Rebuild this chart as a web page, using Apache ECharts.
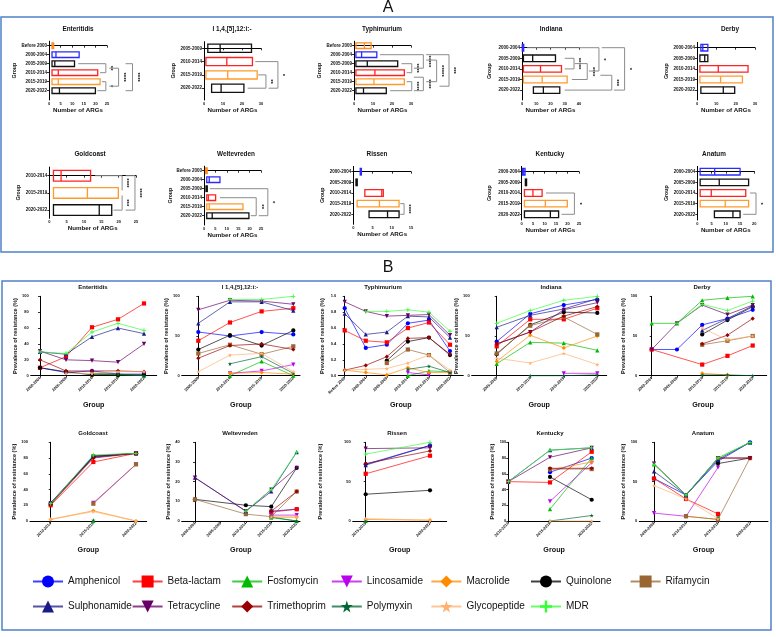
<!DOCTYPE html>
<html><head><meta charset="utf-8">
<script src="https://cdn.jsdelivr.net/npm/echarts@6/dist/echarts.min.js"></script>
<style>html,body{margin:0;padding:0;background:#fff}#c{width:776px;height:637px}</style>
</head><body><div id="c"></div>
<script>
// ---------------- DATA: Panel A (number of ARGs per group: min, median, max) ----------------
const A1_title='Enteritidis';
const A1_groups=['Before 2000','2000-2004','2005-2009','2010-2014','2015-2019','2020-2022'];
const A1_low=[1.3,1.3,1.3,1.3,1.3,1.3];
const A1_med=[1.6,3,2.5,4,4,4.5];
const A1_high=[2,13,11,21,22,20];
const A1_brackets=[[2,3,12.6,22,24.5,'**'],[4,5,22.8,20.8,24.5,'*'],[2.5,4.5,26,26,30,'****'],[2,5,33,33,36,'****']];

const A2_title='I 1,4,[5],12:i:-';
const A2_groups=['2005-2009','2010-2014','2015-2019','2020-2022'];
const A2_low=[2,1,1,4];
const A2_med=[8.5,12,12.5,9];
const A2_high=[25,25.5,28,21];
const A2_brackets=[[2,3,28.5,23,32.6,'**'],[1,3,27,34,38.9,'*']];

const A3_title='Typhimurium';
const A3_groups=['Before 2000','2000-2004','2005-2009','2010-2014','2015-2019','2020-2022'];
const A3_low=[1,1,1,1,1,1];
const A3_med=[5.5,4,7,11,10.5,5];
const A3_high=[9,12,23,26.5,26.5,17];
const A3_brackets=[[2,3,25,27.7,30.4,'****'],[4,5,27.7,19,30.4,'****'],[1,2.5,13.7,31.5,36.5,'*****'],[3.5,5,31.5,31.5,36.5,'****'],[1.6,4,38,38,43.5,'*****'],[1,4.5,38,45,50,'***']];

const A4_title='Indiana';
const A4_groups=['2000-2004','2005-2009','2010-2014','2015-2019','2020-2022'];
const A4_low=[0.2,1,1,1,8];
const A4_med=[0.7,7.5,13,14.2,15];
const A4_high=[1.2,23.5,27.7,31.7,26.5];
const A4_brackets=[[1,2,30,30,36.5,'*****'],[1.5,3,37,35,45.8,'****'],[0,2.2,3.5,47,54,'*'],[2.6,4,55,30,63,'***'],[0,4,56,64.5,72,'*']];

const A5_title='Derby';
const A5_groups=['2000-2004','2005-2009','2010-2014','2015-2019','2020-2022'];
const A5_low=[2,1.5,1.5,1.5,2];
const A5_med=[3,4,11,12.2,13.6];
const A5_high=[5.6,5.6,26.4,23.5,19.5];
const A5_brackets=[];

const A6_title='Goldcoast';
const A6_groups=['2010-2014','2015-2019','2020-2022'];
const A6_low=[1.2,1.2,1.2];
const A6_med=[3.4,11,14.4];
const A6_high=[11.9,19.9,18];
const A6_brackets=[[0,0.85,13.2,21,21,'****'],[1.15,2,21,18.5,21,'***'],[0,2,22,22,24.7,'****']];

const A7_title='Weltevreden';
const A7_groups=['Before 2000','2000-2004','2005-2009','2010-2014','2015-2019','2020-2022'];
const A7_low=[0.7,1.2,0.9,1.2,1.2,1.2];
const A7_med=[1,2.3,1.1,1.9,2.3,3.6];
const A7_high=[1.4,7,1.4,5.1,17.1,19.7];
const A7_brackets=[[3,5,7,20.5,22.9,'**'],[2,5,2.6,24,28,'*']];

const A8_title='Rissen';
const A8_groups=['2000-2004','2005-2009','2010-2014','2015-2019','2020-2022'];
const A8_low=[1.8,0.7,3,1,4.1];
const A8_med=[2,0.85,7.4,6.8,8.9];
const A8_high=[2.1,1.0,7.8,11.9,11.9];
const A8_brackets=[[3,4,12.2,12.2,13.2,'****']];

const A9_title='Kentucky';
const A9_groups=['2000-2004','2005-2009','2010-2014','2015-2019','2020-2022'];
const A9_low=[0.4,1.6,1.2,1.2,1.2];
const A9_med=[0.9,1.8,4.9,10.3,12.5];
const A9_high=[1.45,2.0,8.9,19.9,16.1];
const A9_brackets=[[2,4,10.6,17.4,23,'*']];

const A10_title='Anatum';
const A10_groups=['2000-2004','2005-2009','2010-2014','2015-2019','2020-2022'];
const A10_low=[1,1,1,1,6];
const A10_med=[6.1,7.7,4.9,9.8,12.5];
const A10_high=[15,18,17,18,15];
const A10_brackets=[[2,4,18.5,16.1,20.6,'*']];

// ---------------- DATA: Panel B (prevalence of resistance) ----------------
const ABX=['Amphenicol','Beta-lactam','Fosfomycin','Lincosamide','Macrolide','Quinolone','Rifamycin','Sulphonamide','Tetracycline','Trimethoprim','Polymyxin','Glycopeptide','MDR'];

const B1_title='Enteritidis';
const B1_groups=['2000-2004','2005-2009','2010-2014','2015-2019','2020-2022'];
const B1_Amphenicol=[10,4,6,2,2];
const B1_BetaLactam=[10,24,61,71,91];
const B1_Fosfomycin=[null,null,2,1,0];
const B1_Lincosamide=[null,null,null,null,3];
const B1_Macrolide=[null,null,0,null,null];
const B1_Quinolone=[10,5,1,1,1];
const B1_Rifamycin=[null,null,null,null,null];
const B1_Sulphonamide=[30,27,49,60,53];
const B1_Tetracycline=[31,20,19,17,40];
const B1_Trimethoprim=[20,6,6,6,5];
const B1_Polymyxin=[null,null,3,2,0];
const B1_Glycopeptide=[null,3,3,5,5];
const B1_MDR=[30,28,55,66,57];

const B2_title='I 1,4,[5],12:i:-';
const B2_groups=['2005-2009','2010-2014','2015-2019','2020-2022'];
const B2_Amphenicol=[55,50,55,52];
const B2_BetaLactam=[44,67,81,85];
const B2_Fosfomycin=[null,0,18,0];
const B2_Lincosamide=[null,3,6,14];
const B2_Macrolide=[null,3,4,2];
const B2_Quinolone=[33,51,38,57];
const B2_Rifamycin=[28,39,27,37];
const B2_Sulphonamide=[66,93,93,82];
const B2_Tetracycline=[83,95,94,90];
const B2_Trimethoprim=[22,38,40,33];
const B2_Polymyxin=[null,15,24,3];
const B2_Glycopeptide=[5,26,28,5];
const B2_MDR=[null,96,96,100];

const B3_title='Typhimurium';
const B3_groups=['Before 2000','2000-2004','2005-2009','2010-2014','2015-2019','2020-2022'];
const B3_Amphenicol=[0.85,0.35,0.39,0.66,0.70,0.31];
const B3_BetaLactam=[0.57,0.44,0.42,0.60,0.67,0.39];
const B3_Fosfomycin=[null,null,null,0.00,0.06,0.05];
const B3_Lincosamide=[null,null,null,0.04,0.01,null];
const B3_Macrolide=[0.07,0.04,0.01,0.10,0.04,0.04];
const B3_Quinolone=[null,null,0.19,0.43,0.48,0.26];
const B3_Rifamycin=[null,null,0.16,0.33,0.26,0.04];
const B3_Sulphonamide=[0.78,0.52,0.55,0.75,0.74,0.48];
const B3_Tetracycline=[0.93,0.81,0.75,0.76,0.77,0.51];
const B3_Trimethoprim=[0.07,0.13,0.24,0.47,0.48,0.27];
const B3_Polymyxin=[null,null,null,0.08,0.12,0.04];
const B3_Glycopeptide=[0.07,0.08,0.09,0.16,0.26,0.07];
const B3_MDR=[null,0.81,0.81,0.83,0.80,0.56];

const B4_title='Indiana';
const B4_groups=['2005-2009','2010-2014','2015-2019','2020-2022'];
const B4_Amphenicol=[43,78,89,96];
const B4_BetaLactam=[37,71,71,85];
const B4_Fosfomycin=[15,42,41,32];
const B4_Lincosamide=[null,null,3,3];
const B4_Macrolide=[18,51,35,50];
const B4_Quinolone=[27,64,80,79];
const B4_Rifamycin=[28,63,74,52];
const B4_Sulphonamide=[61,76,84,97];
const B4_Tetracycline=[40,55,83,92];
const B4_Trimethoprim=[40,55,75,87];
const B4_Polymyxin=[null,0,0,1];
const B4_Glycopeptide=[22,16,28,14];
const B4_MDR=[66,82,95,100];

const B5_title='Derby';
const B5_groups=['2000-2004','2005-2009','2010-2014','2015-2019','2020-2022'];
const B5_Amphenicol=[33,33,64,72,83];
const B5_BetaLactam=[33,null,14,25,38];
const B5_Fosfomycin=[66,66,95,98,100];
const B5_Lincosamide=[null,null,null,null,null];
const B5_Macrolide=[null,null,3,1,null];
const B5_Quinolone=[null,null,52,70,87];
const B5_Rifamycin=[null,null,39,44,50];
const B5_Sulphonamide=[null,null,57,72,88];
const B5_Tetracycline=[33,66,89,77,89];
const B5_Trimethoprim=[null,null,40,51,72];
const B5_Polymyxin=[null,null,1,1,0];
const B5_Glycopeptide=[null,null,60,45,50];
const B5_MDR=[null,66,90,82,94];

const B6_title='Goldcoast';
const B6_groups=['2010-2014','2015-2019','2020-2022'];
const B6_Amphenicol=[23,81,86];
const B6_BetaLactam=[20,75,86];
const B6_Fosfomycin=[null,0,null];
const B6_Lincosamide=[null,23,72];
const B6_Macrolide=[2,13,0];
const B6_Quinolone=[22,82,86];
const B6_Rifamycin=[null,22,72];
const B6_Sulphonamide=[23,83,86];
const B6_Tetracycline=[22,82,86];
const B6_Trimethoprim=[21,80,86];
const B6_Polymyxin=[null,1,null];
const B6_Glycopeptide=[2,12,0];
const B6_MDR=[22,84,86];

const B7_title='Weltevreden';
const B7_groups=['2000-2004','2005-2009','2010-2014','2015-2019','2020-2022'];
const B7_Amphenicol=[null,null,null,5,6];
const B7_BetaLactam=[null,null,null,4.5,6];
const B7_Fosfomycin=[null,null,null,1.7,0];
const B7_Lincosamide=[null,null,null,3,3];
const B7_Macrolide=[null,null,null,2,2];
const B7_Quinolone=[11,null,8,7.3,27];
const B7_Rifamycin=[11,null,3.5,2.2,15];
const B7_Sulphonamide=[22,null,5,15,35];
const B7_Tetracycline=[22,null,5,16,27];
const B7_Trimethoprim=[null,null,null,5,15];
const B7_Polymyxin=[null,null,null,2,0];
const B7_Glycopeptide=[null,null,null,2,2];
const B7_MDR=[null,null,5,16,35];

const B8_title='Rissen';
const B8_groups=['2015-2019','2020-2022'];
const B8_Amphenicol=[72,96];
const B8_BetaLactam=[60,83];
const B8_Fosfomycin=[0,null];
const B8_Lincosamide=[null,null];
const B8_Macrolide=[2,1];
const B8_Quinolone=[34,39];
const B8_Rifamycin=[null,null];
const B8_Sulphonamide=[71,96];
const B8_Tetracycline=[92,93];
const B8_Trimethoprim=[73,89];
const B8_Polymyxin=[0,null];
const B8_Glycopeptide=[3,1];
const B8_MDR=[85,100];

const B9_title='Kentucky';
const B9_groups=['2010-2014','2015-2019','2020-2022'];
const B9_Amphenicol=[null,62,80];
const B9_BetaLactam=[50,49,88];
const B9_Fosfomycin=[null,15,80];
const B9_Lincosamide=[null,25,74];
const B9_Macrolide=[null,65,75];
const B9_Quinolone=[null,56,27];
const B9_Rifamycin=[null,66,66];
const B9_Sulphonamide=[50,90,93];
const B9_Tetracycline=[50,81,93];
const B9_Trimethoprim=[null,67,67];
const B9_Polymyxin=[null,0,7];
const B9_Glycopeptide=[null,0,0];
const B9_MDR=[50,90,93];

const B10_title='Anatum';
const B10_groups=['2005-2009','2010-2014','2015-2019','2020-2022'];
const B10_Amphenicol=[54,33,76,100];
const B10_BetaLactam=[54,28,9,null];
const B10_Fosfomycin=[72,33,80,100];
const B10_Lincosamide=[10,6,68,null];
const B10_Macrolide=[null,6,2,null];
const B10_Quinolone=[null,null,73,80];
const B10_Rifamycin=[null,6,2,80];
const B10_Sulphonamide=[63,33,78,100];
const B10_Tetracycline=[73,33,80,80];
const B10_Trimethoprim=[null,null,80,80];
const B10_Polymyxin=[null,null,5,null];
const B10_Glycopeptide=[45,28,3,null];
const B10_MDR=[72,33,80,100];

// ---------------- STYLE / LAYOUT ----------------
const FONT='"Liberation Sans", Arial, sans-serif';
const GROUP_COLORS={'Before 2000':'#FF8C1A','2000-2004':'#2B2BFF','2005-2009':'#111111','2010-2014':'#FF2222','2015-2019':'#FF9A2E','2020-2022':'#111111'};
const ABX_COLORS=['#0000FF','#FF0000','#00BB00','#BB00EE','#FF8C00','#000000','#996633','#1A1A8C','#660066','#990000','#006633','#FFB070','#33FF33'];
const INV_TRI='path://M0,0L10,0L5,9Z';
const STAR='path://M50,0L61,35L98,35L68,57L79,91L50,70L21,91L32,57L2,35L39,35Z';
const PLUS='path://M4,0H6V4H10V6H6V10H4V6H0V4H4Z';
const ABX_SYMBOLS=['circle','rect','triangle',INV_TRI,'diamond','circle','rect','triangle',INV_TRI,'diamond',STAR,STAR,PLUS];

// Panel A layouts: axisX, axis width(px), first-row centre y, row spacing, x-axis y, xmax, interval, titleX, titleY, groupNameX
const A_LAYOUT=[
 [49,58,45.7,9,100,25,5,78,29,15],
 [204,57,48.3,13.3,100,30,10,232,29,174],
 [354,57,45.7,9,100,30,10,382,29,320],
 [522,57,47.7,10.6,100,40,10,551,29,490],
 [697,58,47.7,10.6,100,30,10,730,29,667],
 [49.3,86.7,175.7,17.2,218.3,25,5,90,154,19],
 [204,57,170.7,9,225,25,5,236,154,171],
 [353.3,57.7,171.7,10.65,224.3,15,5,377,154,323],
 [521.7,57.3,171.7,10.65,220,25,5,550,154,490],
 [697.3,57,171.7,10.65,220,20,5,714,154,667]
];
const A_SETS=[
 [A1_title,A1_groups,A1_low,A1_med,A1_high,A1_brackets],
 [A2_title,A2_groups,A2_low,A2_med,A2_high,A2_brackets],
 [A3_title,A3_groups,A3_low,A3_med,A3_high,A3_brackets],
 [A4_title,A4_groups,A4_low,A4_med,A4_high,A4_brackets],
 [A5_title,A5_groups,A5_low,A5_med,A5_high,A5_brackets],
 [A6_title,A6_groups,A6_low,A6_med,A6_high,A6_brackets],
 [A7_title,A7_groups,A7_low,A7_med,A7_high,A7_brackets],
 [A8_title,A8_groups,A8_low,A8_med,A8_high,A8_brackets],
 [A9_title,A9_groups,A9_low,A9_med,A9_high,A9_brackets],
 [A10_title,A10_groups,A10_low,A10_med,A10_high,A10_brackets]
];

// Panel B layouts: axisX, axisEndX, firstCatX, lastCatX, rowTop(max), rowBottom(0), ymax, interval, titleX, titleY, yNameGap
const B_LAYOUT=[
 [30.7,156.7,40,144,296.3,375.7,100,20,93,287,11],
 [181.7,300,198.3,293.3,296.3,375.7,100,50,240,287,9],
 [338.3,463.3,344.7,450,296.3,375.7,1,0.2,383,287,13],
 [471.7,606.7,496.7,597.3,296.3,375.7,100,50,551,287,9],
 [639.3,766.7,651.7,752.7,296.3,375.7,100,50,702,287,11],
 [30,146.7,50.7,136,442.3,521,100,20,93,433,11],
 [181.7,300,195,296.7,442.3,521,40,10,240,433,9],
 [352.7,446.7,365.7,430,442.3,521,100,50,397,433,29],
 [508.3,600,508.3,591.7,442.3,521,100,20,550,433,11],
 [639.3,768,654,750,442.3,521,100,50,703,433,11]
];
const B_SETS=[
 [B1_title,B1_groups,[B1_Amphenicol,B1_BetaLactam,B1_Fosfomycin,B1_Lincosamide,B1_Macrolide,B1_Quinolone,B1_Rifamycin,B1_Sulphonamide,B1_Tetracycline,B1_Trimethoprim,B1_Polymyxin,B1_Glycopeptide,B1_MDR]],
 [B2_title,B2_groups,[B2_Amphenicol,B2_BetaLactam,B2_Fosfomycin,B2_Lincosamide,B2_Macrolide,B2_Quinolone,B2_Rifamycin,B2_Sulphonamide,B2_Tetracycline,B2_Trimethoprim,B2_Polymyxin,B2_Glycopeptide,B2_MDR]],
 [B3_title,B3_groups,[B3_Amphenicol,B3_BetaLactam,B3_Fosfomycin,B3_Lincosamide,B3_Macrolide,B3_Quinolone,B3_Rifamycin,B3_Sulphonamide,B3_Tetracycline,B3_Trimethoprim,B3_Polymyxin,B3_Glycopeptide,B3_MDR]],
 [B4_title,B4_groups,[B4_Amphenicol,B4_BetaLactam,B4_Fosfomycin,B4_Lincosamide,B4_Macrolide,B4_Quinolone,B4_Rifamycin,B4_Sulphonamide,B4_Tetracycline,B4_Trimethoprim,B4_Polymyxin,B4_Glycopeptide,B4_MDR]],
 [B5_title,B5_groups,[B5_Amphenicol,B5_BetaLactam,B5_Fosfomycin,B5_Lincosamide,B5_Macrolide,B5_Quinolone,B5_Rifamycin,B5_Sulphonamide,B5_Tetracycline,B5_Trimethoprim,B5_Polymyxin,B5_Glycopeptide,B5_MDR]],
 [B6_title,B6_groups,[B6_Amphenicol,B6_BetaLactam,B6_Fosfomycin,B6_Lincosamide,B6_Macrolide,B6_Quinolone,B6_Rifamycin,B6_Sulphonamide,B6_Tetracycline,B6_Trimethoprim,B6_Polymyxin,B6_Glycopeptide,B6_MDR]],
 [B7_title,B7_groups,[B7_Amphenicol,B7_BetaLactam,B7_Fosfomycin,B7_Lincosamide,B7_Macrolide,B7_Quinolone,B7_Rifamycin,B7_Sulphonamide,B7_Tetracycline,B7_Trimethoprim,B7_Polymyxin,B7_Glycopeptide,B7_MDR]],
 [B8_title,B8_groups,[B8_Amphenicol,B8_BetaLactam,B8_Fosfomycin,B8_Lincosamide,B8_Macrolide,B8_Quinolone,B8_Rifamycin,B8_Sulphonamide,B8_Tetracycline,B8_Trimethoprim,B8_Polymyxin,B8_Glycopeptide,B8_MDR]],
 [B9_title,B9_groups,[B9_Amphenicol,B9_BetaLactam,B9_Fosfomycin,B9_Lincosamide,B9_Macrolide,B9_Quinolone,B9_Rifamycin,B9_Sulphonamide,B9_Tetracycline,B9_Trimethoprim,B9_Polymyxin,B9_Glycopeptide,B9_MDR]],
 [B10_title,B10_groups,[B10_Amphenicol,B10_BetaLactam,B10_Fosfomycin,B10_Lincosamide,B10_Macrolide,B10_Quinolone,B10_Rifamycin,B10_Sulphonamide,B10_Tetracycline,B10_Trimethoprim,B10_Polymyxin,B10_Glycopeptide,B10_MDR]]
];

// ---------------- BUILD ----------------
const grids=[],xAxes=[],yAxes=[],series=[],graphics=[];
const axisCommon={axisLine:{show:true,lineStyle:{color:'#000',width:1}},axisTick:{show:true,length:2,lineStyle:{color:'#000',width:0.8}},splitLine:{show:false}};

function boxRender(params,api){
  const lo=api.value(0),hi=api.value(1),md=api.value(2),c=api.value(3);
  const p1=api.coord([lo,c]),p2=api.coord([hi,c]),pm=api.coord([md,c]);
  const h=Math.abs(api.size([0,1])[1])*0.62;
  const col=api.visual('color');
  return {type:'group',children:[
    {type:'rect',shape:{x:p1[0],y:p1[1]-h/2,width:Math.max(p2[0]-p1[0],1.2),height:h},style:{fill:'none',stroke:col,lineWidth:1.3}},
    {type:'line',shape:{x1:pm[0],y1:p1[1]-h/2,x2:pm[0],y2:p1[1]+h/2},style:{stroke:col,lineWidth:1.3}}
  ]};
}
function makeBracketRender(labels){
  return function(params,api){
    const a=api.value(0),b=api.value(1),xa=api.value(2),xb=api.value(3),xv=api.value(4);
    const pa=api.coord([xa,a]),pb=api.coord([xb,b]),va=api.coord([xv,a]),vb=api.coord([xv,b]);
    return {type:'group',children:[
      {type:'polyline',shape:{points:[pa,va,vb,pb]},style:{stroke:'#8c8c8c',lineWidth:1,fill:'none'}},
      {type:'text',x:va[0]+5,y:(va[1]+vb[1])/2,rotation:-Math.PI/2,style:{text:labels[params.dataIndex],font:'bold 6px '+FONT,fill:'#111',align:'center',verticalAlign:'middle'}}
    ]};
  };
}

let gi=0;
A_SETS.forEach((set,k)=>{
  const [title,groups,low,med,high,br]=set;
  const [ax,w,c0,s,axY,xmax,intv,tx,ty,gx]=A_LAYOUT[k];
  const top=c0-s/2;
  grids.push({left:ax,top:top,width:w,height:axY-top});
  const idx=groups.map((g,i)=>i);
  xAxes.push(Object.assign({},axisCommon,{gridIndex:gi,type:'value',min:0,max:xmax,interval:intv,
    axisLabel:{fontSize:4,margin:2,color:'#111',fontFamily:FONT,fontWeight:'bold'},
    name:'Number of ARGs',nameLocation:'middle',nameGap:7,nameTextStyle:{fontSize:6.2,fontWeight:'bold',color:'#111',fontFamily:FONT}}));
  yAxes.push(Object.assign({},axisCommon,{gridIndex:gi,type:'value',inverse:true,min:-0.5,max:(axY-c0)/s,
    axisLabel:{customValues:idx,formatter:v=>groups[Math.round(v)],fontSize:4.5,margin:2,color:'#111',fontFamily:FONT,fontWeight:'bold'},
    axisTick:{show:true,length:2,customValues:idx,lineStyle:{color:'#000',width:0.8}},
    name:'Group',nameLocation:'middle',nameGap:ax-gx-2.5,nameTextStyle:{fontSize:5.2,fontWeight:'bold',color:'#111',fontFamily:FONT}}));
  series.push({type:'custom',name:'A'+k,xAxisIndex:gi,yAxisIndex:gi,silent:true,clip:false,renderItem:boxRender,
    encode:{x:[0,1,2],y:3},
    data:groups.map((g,i)=>({value:[low[i],high[i],med[i],i],itemStyle:{color:GROUP_COLORS[g]}}))});
  if(br.length){
    series.push({type:'custom',name:'Abr'+k,xAxisIndex:gi,yAxisIndex:gi,silent:true,clip:false,
      renderItem:makeBracketRender(br.map(b=>b[5])),encode:{x:[2,3,4],y:[0,1]},data:br.map(b=>b.slice(0,5))});
  }
  graphics.push({type:'text',x:tx,y:ty,style:{text:title,font:'bold 6.4px '+FONT,fill:'#111',align:'center',verticalAlign:'middle'}});
  gi++;
});

B_SETS.forEach((set,k)=>{
  const [title,groups,vals]=set;
  const [ax,end,first,last,top,bot,ymax,intv,tx,ty,yGap]=B_LAYOUT[k];
  const n=groups.length;
  const sp=n>1?(last-first)/(n-1):40;
  grids.push({left:ax,top:top,width:end-ax,height:bot-top});
  const idx=groups.map((g,i)=>i);
  xAxes.push(Object.assign({},axisCommon,{gridIndex:gi,type:'value',min:-(first-ax)/sp,max:(end-first)/sp,
    axisLabel:{customValues:idx,formatter:v=>groups[Math.round(v)],rotate:45,fontSize:3.9,margin:2,color:'#111',fontFamily:FONT,fontWeight:'bold'},
    axisTick:{show:true,length:2,customValues:idx,lineStyle:{color:'#000',width:0.8}},
    name:'Group',nameLocation:'middle',nameGap:26,nameTextStyle:{fontSize:7.2,fontWeight:'bold',color:'#111',fontFamily:FONT}}));
  yAxes.push(Object.assign({},axisCommon,{gridIndex:gi,type:'value',min:0,max:ymax,interval:intv,
    axisLabel:{fontSize:4,margin:2,color:'#111',fontFamily:FONT,fontWeight:'bold',formatter:v=>ymax===1?v.toFixed(1):String(v)},
    name:'Prevalence of resistance (%)',nameLocation:'middle',nameGap:yGap,nameTextStyle:{fontSize:5.6,fontWeight:'bold',color:'#111',fontFamily:FONT}}));
  ABX.forEach((name,j)=>{
    const arr=vals[j];
    const pts=[];
    arr.forEach((v,i)=>{if(v!==null&&v!==undefined)pts.push([i,v]);});
    if(!pts.length)return;
    series.push({type:'line',name:name,xAxisIndex:gi,yAxisIndex:gi,data:pts,symbol:ABX_SYMBOLS[j],symbolSize:4.2,
      itemStyle:{color:ABX_COLORS[j]},lineStyle:{color:ABX_COLORS[j],width:0.9,opacity:0.75},silent:true,clip:false,z:2+j*0.01});
  });
  graphics.push({type:'text',x:tx,y:ty,style:{text:title,font:'bold 6px '+FONT,fill:'#111',align:'center',verticalAlign:'middle'}});
  gi++;
});

graphics.push({type:'rect',shape:{x:1,y:17,width:772,height:235},style:{fill:'none',stroke:'#4F81C7',lineWidth:1.5},z:-1});
graphics.push({type:'rect',shape:{x:2,y:281,width:769,height:349},style:{fill:'none',stroke:'#4F81C7',lineWidth:1.5},z:-1});
graphics.push({type:'text',x:388,y:8,style:{text:'A',font:'16px '+FONT,fill:'#111',align:'center',verticalAlign:'middle'}});
graphics.push({type:'text',x:388,y:268,style:{text:'B',font:'16px '+FONT,fill:'#111',align:'center',verticalAlign:'middle'}});

// one legend per item so items sit on an even 99.6 px pitch
const legends=ABX.map((name,j)=>{
  const col=j<7?j:j-7, rowC=j<7?583:608;
  return {orient:'horizontal',padding:0,itemWidth:30,itemHeight:15,itemGap:0,selectedMode:false,
    left:32+99.6*col,top:rowC-7.5,data:[name],
    textStyle:{fontSize:10,color:'#111',fontFamily:FONT}};
});
const option={
  animation:false,
  backgroundColor:'#fff',
  grid:grids,xAxis:xAxes,yAxis:yAxes,series:series,
  legend:legends,
  graphic:{elements:graphics}
};
const chart=echarts.init(document.getElementById('c'),null,{renderer:'canvas'});
chart.setOption(option);
</script></body></html>
